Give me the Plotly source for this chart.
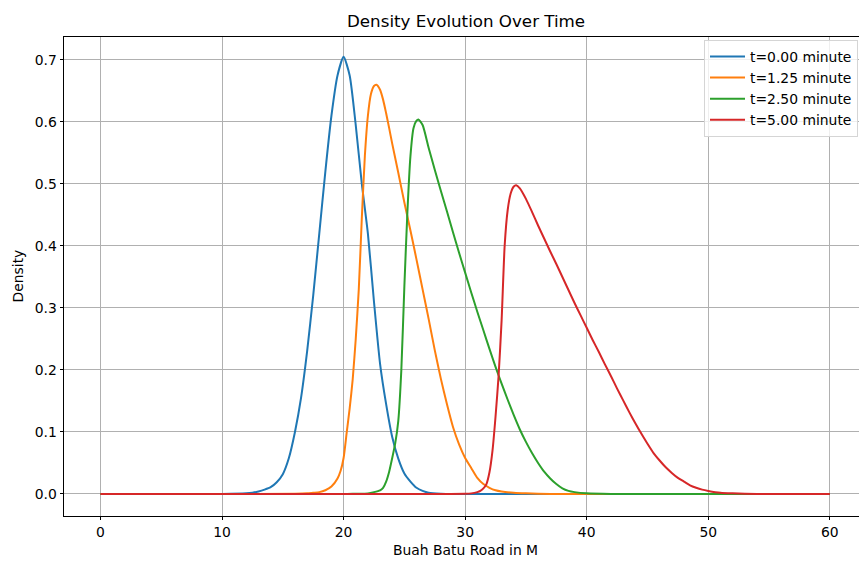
import plotly.graph_objects as go

# ---- data ----
x_t0 = [0, 10, 12, 12.5, 13, 13.5, 14, 14.5, 15, 15.5, 16, 16.5, 17, 17.5, 18, 18.5, 19, 19.5, 20,
        20.5, 21, 21.5, 22, 22.5, 23, 23.5, 24, 24.5, 25, 25.5, 26, 26.5, 27, 28, 29, 60]
y_t0 = [0, 0, 0.001, 0.002, 0.004, 0.007, 0.011, 0.019, 0.032, 0.058, 0.1, 0.155, 0.23, 0.32, 0.42, 0.52, 0.61, 0.675, 0.705,
        0.675, 0.595, 0.5, 0.42, 0.31, 0.21, 0.145, 0.092, 0.057, 0.033, 0.02, 0.01, 0.005, 0.002, 0.0005, 0, 0]

x_t1 = [0, 10, 16, 17, 17.5, 18, 18.5, 19, 19.5, 19.75, 20, 20.25, 20.5, 20.75, 21, 21.25, 21.5, 21.75, 22, 22.25, 22.5, 22.7,
        23, 23.25, 23.5, 23.75, 24, 24.5, 25, 25.5, 26, 26.5, 27, 27.5, 28, 28.5, 29, 29.5, 30, 30.5, 31, 31.5, 32, 32.5, 33,
        34, 35, 37, 60]
y_t1 = [0, 0, 0.0003, 0.001, 0.002, 0.003, 0.006, 0.012, 0.025, 0.037, 0.058, 0.098, 0.138, 0.185, 0.25, 0.33, 0.445, 0.545, 0.61, 0.645, 0.658, 0.66,
        0.652, 0.636, 0.614, 0.59, 0.565, 0.518, 0.47, 0.425, 0.378, 0.33, 0.282, 0.232, 0.186, 0.145, 0.108, 0.08, 0.058, 0.042, 0.026, 0.016, 0.01, 0.006, 0.004,
        0.002, 0.001, 0, 0]

x_t2 = [0, 20, 21, 22, 22.5, 23, 23.25, 23.5, 23.75, 24, 24.25, 24.5, 24.75, 25, 25.25, 25.5, 25.75, 26, 26.15, 26.5, 27, 27.5,
        28, 28.5, 29, 29.5, 30, 30.5, 31, 31.5, 32, 32.5, 33, 33.5, 34, 34.5, 35, 35.5, 36, 36.5, 37, 37.5, 38, 38.5, 39, 40,
        42, 60]
y_t2 = [0, 0, 0.0005, 0.001, 0.003, 0.006, 0.01, 0.02, 0.036, 0.058, 0.082, 0.118, 0.2, 0.335, 0.455, 0.545, 0.59, 0.602, 0.604, 0.595, 0.558, 0.523,
        0.489, 0.456, 0.422, 0.389, 0.357, 0.325, 0.294, 0.264, 0.234, 0.205, 0.178, 0.152, 0.127, 0.104, 0.084, 0.066, 0.05, 0.036, 0.025, 0.016, 0.009, 0.005, 0.003, 0.001,
        0, 0]

x_t5 = [0, 28, 30, 30.5, 31, 31.25, 31.5, 31.75, 32, 32.25, 32.5, 32.75, 33, 33.25, 33.5, 33.75, 34, 34.2, 34.5, 35, 35.5, 36,
        36.5, 37, 37.5, 38, 38.5, 39, 39.5, 40, 40.5, 41, 41.5, 42, 42.5, 43, 43.5, 44, 44.5, 45, 45.5, 46, 46.5, 47, 47.5, 48,
        48.5, 49, 49.5, 50, 51, 52, 54, 60]
y_t5 = [0, 0, 0.0005, 0.001, 0.003, 0.005, 0.009, 0.016, 0.035, 0.07, 0.125, 0.19, 0.28, 0.4, 0.458, 0.485, 0.496, 0.498, 0.493, 0.476, 0.455, 0.433,
        0.412, 0.391, 0.371, 0.35, 0.329, 0.308, 0.288, 0.268, 0.248, 0.229, 0.209, 0.19, 0.17, 0.151, 0.132, 0.114, 0.097, 0.081, 0.066, 0.054, 0.043, 0.034, 0.026, 0.02,
        0.014, 0.01, 0.007, 0.005, 0.002, 0.001, 0, 0]

series_names = ["t=0.00 minute", "t=1.25 minute", "t=2.50 minute", "t=5.00 minute"]
series_x = [x_t0, x_t1, x_t2, x_t5]
series_y = [y_t0, y_t1, y_t2, y_t5]
colors = ["#1f77b4", "#ff7f0e", "#2ca02c", "#d62728"]

x_ticks = [0, 10, 20, 30, 40, 50, 60]
y_ticks = [0.0, 0.1, 0.2, 0.3, 0.4, 0.5, 0.6, 0.7]

title_text = "Density Evolution Over Time"
x_label = "Buah Batu Road in M"
y_label = "Density"

FONT = "DejaVu Sans"

fig = go.Figure()
for name, xs, ys, c in zip(series_names, series_x, series_y, colors):
    fig.add_trace(go.Scatter(x=xs, y=ys, mode="lines", name=name,
                             line=dict(color=c, width=2, shape="spline", smoothing=0.6)))

W, H = 859, 561
L, T, B = 64, 37, 45
plot_w = W - L
plot_h = H - T - B


def px_x(p):
    return (p - L) / plot_w


def px_y(p):
    return (H - B - p) / plot_h


fig.update_layout(
    width=W, height=H,
    margin=dict(l=L, r=0, t=T, b=B, pad=0),
    paper_bgcolor="white", plot_bgcolor="white",
    font=dict(family=FONT, size=13.9, color="black"),
    showlegend=True,
    legend=dict(x=px_x(704), y=px_y(40), xanchor="left", yanchor="top",
                bgcolor="rgba(255,255,255,0.8)", bordercolor="#d5d5d5", borderwidth=1,
                font=dict(family=FONT, size=13.9, color="black"),
                tracegroupgap=0, itemwidth=35),
)
fig.update_xaxes(
    range=[-3, 62.4], tickvals=x_ticks, ticktext=[str(v) for v in x_ticks],
    showgrid=True, gridcolor="#b0b0b0", gridwidth=0.8, zeroline=False,
    showline=True, linecolor="black", linewidth=0.8, mirror=True,
    ticks="outside", ticklen=3.5, tickwidth=0.8, tickcolor="black",
    tickfont=dict(family=FONT, size=13.9, color="black"),
)
fig.update_yaxes(
    range=[-0.0355, 0.737], tickvals=y_ticks, ticktext=["%.1f" % v for v in y_ticks],
    showgrid=True, gridcolor="#b0b0b0", gridwidth=0.8, zeroline=False,
    showline=True, linecolor="black", linewidth=0.8, mirror=False,
    ticks="outside", ticklen=3.5, tickwidth=0.8, tickcolor="black",
    tickfont=dict(family=FONT, size=13.9, color="black"),
)

fig.add_annotation(text=title_text, xref="paper", yref="paper", x=px_x(465.5), y=px_y(21),
                   xanchor="center", yanchor="middle", showarrow=False,
                   font=dict(family=FONT, size=16.7, color="black"))
fig.add_annotation(text=x_label, xref="paper", yref="paper", x=px_x(465), y=px_y(550),
                   xanchor="center", yanchor="middle", showarrow=False,
                   font=dict(family=FONT, size=13.9, color="black"))
fig.add_annotation(text=y_label, xref="paper", yref="paper", x=px_x(17), y=px_y(276.5),
                   xanchor="center", yanchor="middle", showarrow=False, textangle=-90,
                   font=dict(family=FONT, size=13.9, color="black"))

fig.write_html("out.html", config={"displayModeBar": False},
               post_script="document.body.style.margin='0';document.body.style.overflow='hidden';")
